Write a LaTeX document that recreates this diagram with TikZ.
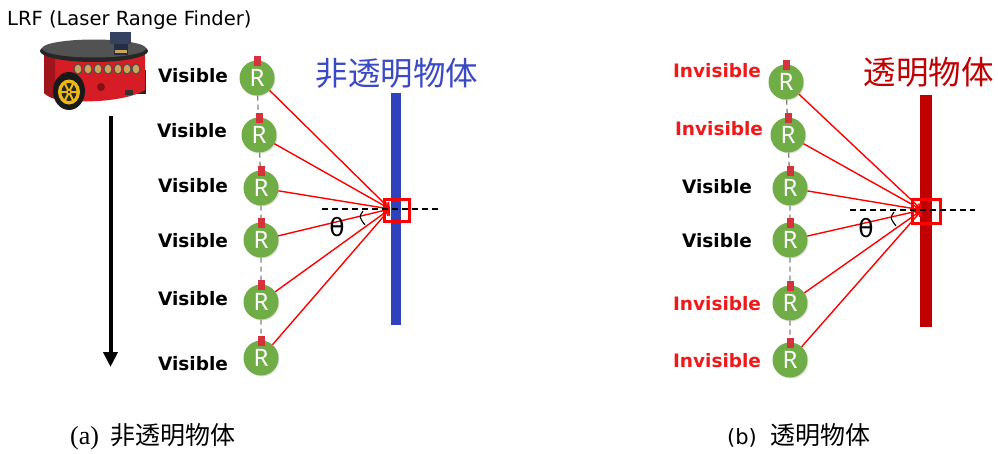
\documentclass[tikz,border=0pt]{standalone}
\usepackage{fontspec}
\setmainfont{Liberation Serif}
\newfontfamily\labelfont{DejaVu Sans}
\newfontfamily\rfont{Noto Sans}
\newfontfamily\cjkfont{Noto Sans CJK JP}
\usetikzlibrary{arrows.meta,shadows}

\definecolor{sensorgreen}{RGB}{112,173,71}
\definecolor{tabred}{RGB}{214,50,62}
\definecolor{rayred}{RGB}{255,0,0}
\definecolor{wallblue}{RGB}{46,66,190}
\definecolor{titleblue}{RGB}{58,74,196}
\definecolor{wallred}{RGB}{192,0,0}
\definecolor{missred}{RGB}{240,24,24}
\definecolor{robotred}{RGB}{214,28,36}
\definecolor{sonargold}{RGB}{205,165,90}
\definecolor{rimyellow}{RGB}{235,185,20}
\definecolor{lrfblue}{RGB}{52,66,96}
\definecolor{trackgray}{RGB}{130,130,130}

\tikzset{
  sensor/.style={circle, fill=sensorgreen, minimum size=35pt, inner sep=0pt,
    text=white, font=\rfont\fontsize{24}{24}\selectfont,
    drop shadow={opacity=0.25, shadow xshift=1pt, shadow yshift=-1pt}},
  tabfill/.style={fill=tabred},
  track/.style={draw=trackgray, line width=1.3pt, dash pattern=on 5pt off 4pt},
  ray/.style={draw=rayred, line width=1.4pt, -{Straight Barb[length=5pt,width=8pt]}},
  hitbox/.style={draw=rayred, line width=3.2pt, inner sep=0pt, fill=none},
  refline/.style={draw=black, line width=1.3pt, dash pattern=on 6pt off 4pt},
  lab/.style={anchor=base, inner sep=0pt, font=\labelfont\bfseries\fontsize{18.5}{20}\selectfont},
  vis/.style={lab, text=black},
  invis/.style={lab, text=missred},
  title/.style={inner sep=0pt, font=\cjkfont\fontsize{32.5}{34}\selectfont},
  angmark/.style={font=\labelfont\fontsize{25}{25}\selectfont, inner sep=0pt},
  caption/.style={anchor=base west, inner sep=0pt},
}

\begin{document}
\begin{tikzpicture}[x=1pt,y=-1pt]
\useasboundingbox (0,0) rectangle (998,453);

% ---------- robot with laser range finder ----------
\node[anchor=base west, inner sep=0pt, font=\labelfont\fontsize{19.5}{20}\selectfont] (lrf) at (7,25) {LRF (Laser Range Finder)};
% far wheel
\fill[black!85] (137,70) rectangle (146,94);
% body
\fill[robotred] (44,52) -- (44,93) .. controls (60,106) and (125,103) .. (145,90) -- (145,52) -- cycle;
\fill[robotred!75!black] (44,52) -- (44,93) .. controls (47,96) and (51,98) .. (55,99) -- (55,56) -- cycle;
% sonar ring
\foreach \x in {78,88,98,108,118,127,136}
  { \fill[black!70] (\x,69) ellipse (4.5 and 5.5);
    \fill[sonargold] (\x,69) ellipse (3.3 and 4.3); }
% top plate
\fill[black!85] (94,51) ellipse (54 and 11);
\fill[black!68] (94,48.5) ellipse (52 and 9);
% laser scanner
\fill[lrfblue] (110,32) rectangle (131,44);
\fill[lrfblue!70!black] (114,44) rectangle (128,55);
\fill[sonargold] (115,50) rectangle (127,52.5);
% emblem and plate on the body
\fill[robotred!60!black] (101,87) circle (4);
\fill[black!80] (125,90) rectangle (133,95);
% front wheel
\fill[black!90] (69,91) ellipse (16 and 19);
\fill[rimyellow] (69,92) ellipse (11 and 12.5);
\fill[black!85] (69,92) ellipse (7.5 and 9);
\foreach \a in {0,60,...,300}
  \draw[rimyellow, line width=2pt] (69,92) -- ++(\a:9 and 10.5);
\fill[rimyellow] (69,92) circle (3);
\fill[black] (69,92) circle (1.2);

% direction of travel
\coordinate (mv0) at (110.5,116);
\coordinate (mv1) at (110.5,367);
\draw[line width=4pt, -{Triangle[length=15pt,width=14pt]}] (mv0) -- (mv1);

% ---------- (a) opaque object ----------
\node[title, text=titleblue] (ttla) at (397,73) {非透明物体};
\node[fill=wallblue, minimum width=10pt, minimum height=232pt, inner sep=0pt] (walla) at (396,209) {};

\node[sensor] (a1) at (257,78) {R};
\node[sensor] (a2) at (259,135) {R};
\node[sensor] (a3) at (261,188) {R};
\node[sensor] (a4) at (261,240) {R};
\node[sensor] (a5) at (261,302) {R};
\node[sensor] (a6) at (261,358) {R};
\draw[track] (a1) -- (a2) -- (a3) -- (a4) -- (a5) -- (a6);
\foreach \n in {a1,a2,a3,a4,a5,a6}
  \fill[tabfill] ([xshift=-3.5pt,yshift=4.5pt]\n.north) rectangle ([xshift=3.5pt,yshift=-5.5pt]\n.north);

\coordinate (ta) at (390,209);
\foreach \n in {a1,a2,a3,a4,a5,a6}
  \draw[ray] (\n) -- (ta);
\node[hitbox, minimum width=25pt, minimum height=22pt] (boxa) at (397,210.5) {};
\coordinate (ha0) at (322,209);
\coordinate (ha1) at (440,209);
\draw[refline] (ha0) -- (ha1);
\node[angmark] (tha) at (337,227) {θ};
\draw[line width=1.1pt] (363,211) .. controls (359,217) .. (365,225);

\node[vis] (la1) at (193,82) {Visible};
\node[vis] (la2) at (192,137) {Visible};
\node[vis] (la3) at (193,192) {Visible};
\node[vis] (la4) at (193,247) {Visible};
\node[vis] (la5) at (193,305) {Visible};
\node[vis] (la6) at (193,370) {Visible};

% ---------- (b) transparent object ----------
\node[title, text=wallred] (ttlb) at (928.5,72) {透明物体};
\node[fill=wallred, minimum width=12pt, minimum height=232pt, inner sep=0pt] (wallb) at (926,211) {};

\node[sensor] (b1) at (786,82) {R};
\node[sensor] (b2) at (788,135) {R};
\node[sensor] (b3) at (790,188) {R};
\node[sensor] (b4) at (790,240) {R};
\node[sensor] (b5) at (790,303) {R};
\node[sensor] (b6) at (790,360) {R};
\draw[track] (b1) -- (b2) -- (b3) -- (b4) -- (b5) -- (b6);
\foreach \n in {b1,b2,b3,b4,b5,b6}
  \fill[tabfill] ([xshift=-3.5pt,yshift=4.5pt]\n.north) rectangle ([xshift=3.5pt,yshift=-5.5pt]\n.north);

\coordinate (tb) at (922,210);
\foreach \n in {b1,b2,b3,b4,b5,b6}
  \draw[ray] (\n) -- (tb);
\node[hitbox, minimum width=28pt, minimum height=24pt] (boxb) at (926.5,211.5) {};
\coordinate (hb0) at (850,210);
\coordinate (hb1) at (975,210);
\draw[refline] (hb0) -- (hb1);
\node[angmark] (thb) at (866,228) {θ};
\draw[line width=1.1pt] (894,212) .. controls (890,218) .. (896,226);

\node[invis] (lb1) at (717,77) {Invisible};
\node[invis] (lb2) at (719,135) {Invisible};
\node[vis]   (lb3) at (717,193) {Visible};
\node[vis]   (lb4) at (717,247) {Visible};
\node[invis] (lb5) at (717,310) {Invisible};
\node[invis] (lb6) at (717,367) {Invisible};

% ---------- captions ----------
\node[caption, font=\fontsize{26}{28}\selectfont] (capa) at (70,444)
  {(a)\hspace{11pt}{\cjkfont\fontsize{25}{28}\selectfont 非透明物体}};
\node[caption, font=\labelfont\fontsize{21}{28}\selectfont] (capb) at (727,444)
  {(b)\hspace{14pt}{\cjkfont\fontsize{25}{28}\selectfont 透明物体}};
\end{tikzpicture}
\end{document}
